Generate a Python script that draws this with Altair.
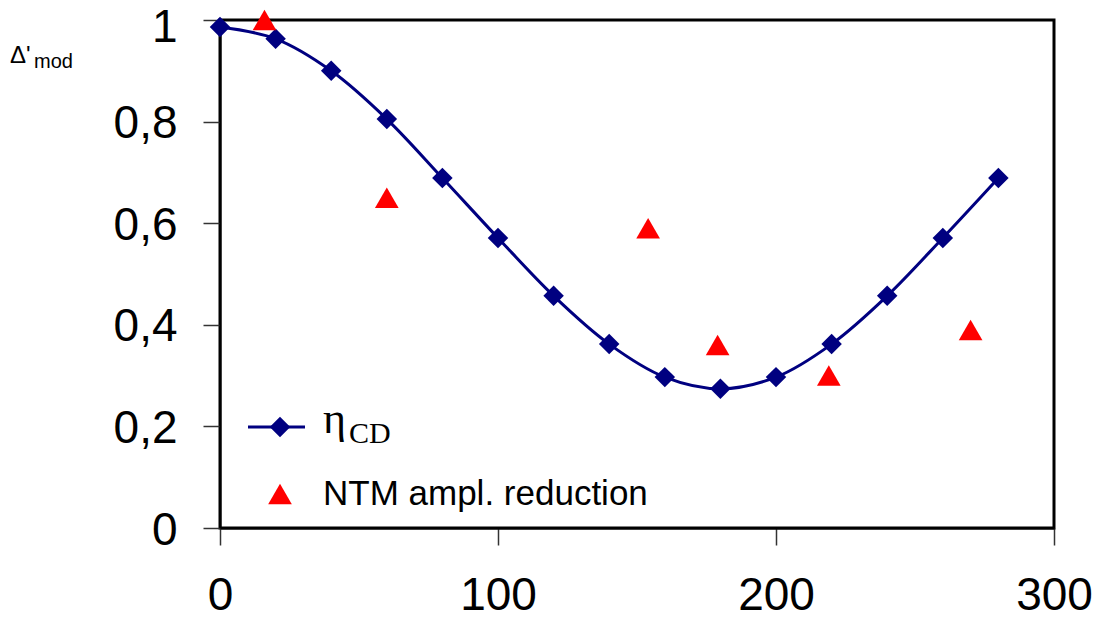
import altair as alt
import pandas as pd

# eta_CD curve (blue diamonds)
cd_x = [0, 20, 40, 60, 80, 100, 120, 140, 160, 180, 200, 220, 240, 260, 280]
cd_y = [0.986, 0.963, 0.900, 0.805, 0.689, 0.571, 0.457, 0.362, 0.297, 0.274,
        0.297, 0.362, 0.457, 0.571, 0.689]

# NTM amplitude reduction (red triangles)
ntm_x = [16, 60, 154, 179, 219, 270]
ntm_y = [1.0, 0.65, 0.59, 0.36, 0.30, 0.39]

x_ticks = [0, 100, 200, 300]
y_ticks = [0, 0.2, 0.4, 0.6, 0.8, 1.0]

legend_cd = "η"
legend_cd_sub = "CD"
legend_ntm = "NTM ampl. reduction"
y_title = "Δ'"
y_title_sub = "mod"

df_cd = pd.DataFrame({"x": cd_x, "y": cd_y})
df_ntm = pd.DataFrame({"x": ntm_x, "y": ntm_y})
one = pd.DataFrame({"a": [0]})

NAVY = "#000080"
SANS = "Liberation Sans"
SERIF = "Liberation Serif"

xscale = alt.Scale(domain=[0, 300], nice=False, zero=False)
yscale = alt.Scale(domain=[0, 1], nice=False)

xaxis = alt.Axis(values=x_ticks, title=None, grid=False, domainColor="black",
                 domainWidth=2, tickColor="#333333", tickSize=17, tickWidth=1.5,
                 labelFont=SANS, labelFontSize=46, labelColor="black",
                 labelPadding=28, labelFlush=False, labelOverlap=False)
yaxis = alt.Axis(values=y_ticks, title=None, grid=False, domainColor="black",
                 domainWidth=2, tickColor="#333333", tickSize=17, tickWidth=1.5,
                 labelFont=SANS, labelFontSize=46, labelColor="black",
                 labelPadding=26, labelFlush=False, labelOverlap=False,
                 labelBaseline="alphabetic",
                 labelOffset={"condition": {"test": "datum.value >= 0.99", "value": 21}, "value": 16},
                 labelExpr="datum.value == 0 || datum.value == 1 ? format(datum.value, 'd') : replace(format(datum.value, '.1f'), '.', ',')")

line = alt.Chart(df_cd).mark_line(color=NAVY, strokeWidth=3, interpolate="catmull-rom").encode(
    x=alt.X("x:Q", scale=xscale, axis=xaxis),
    y=alt.Y("y:Q", scale=yscale, axis=yaxis),
)
pts = alt.Chart(df_cd).mark_point(shape="diamond", filled=True, size=420, color=NAVY, opacity=1).encode(
    x=alt.X("x:Q", scale=xscale), y=alt.Y("y:Q", scale=yscale))
tri = alt.Chart(df_ntm).mark_point(shape="triangle-up", filled=True, size=560, color="#FF0000", opacity=1).encode(
    x=alt.X("x:Q", scale=xscale), y=alt.Y("y:Q", scale=yscale))

# manual legend
leg_rule = alt.Chart(one).mark_rule(color=NAVY, strokeWidth=3).encode(
    x=alt.value(28), x2=alt.value(85), y=alt.value(407))
leg_dia = alt.Chart(one).mark_point(shape="diamond", filled=True, size=420, color=NAVY, opacity=1).encode(
    x=alt.value(60), y=alt.value(407))
leg_eta = alt.Chart(one).mark_text(text=legend_cd, font=SERIF, fontSize=44, align="left",
                                   baseline="alphabetic", color="black").encode(
    x=alt.value(103), y=alt.value(413))
leg_eta_sub = alt.Chart(one).mark_text(text=legend_cd_sub, font=SERIF, fontSize=30, align="left",
                                       baseline="alphabetic", color="black").encode(
    x=alt.value(129), y=alt.value(423))
leg_tri = alt.Chart(one).mark_point(shape="triangle-up", filled=True, size=560, color="#FF0000", opacity=1).encode(
    x=alt.value(60), y=alt.value(474))
leg_ntm = alt.Chart(one).mark_text(text=legend_ntm, font=SANS, fontSize=35, align="left",
                                   baseline="alphabetic", color="black").encode(
    x=alt.value(103), y=alt.value(485))

# y-axis title
yt = alt.Chart(one).mark_text(text=y_title, font=SANS, fontSize=24, align="left",
                              baseline="alphabetic", color="black").encode(
    x=alt.value(-210), y=alt.value(43))
yt_sub = alt.Chart(one).mark_text(text=y_title_sub, font=SANS, fontSize=20, align="left",
                                  baseline="alphabetic", color="black").encode(
    x=alt.value(-186), y=alt.value(48))

chart = alt.layer(line, pts, tri, leg_rule, leg_dia, leg_eta, leg_eta_sub, leg_tri, leg_ntm, yt, yt_sub).properties(
    width=834, height=508,
    background="white",
    autosize=alt.AutoSizeParams(type="none"),
    padding={"left": 212, "top": 12, "right": 39, "bottom": 92},
).configure_view(stroke="black", strokeWidth=3)

chart.save("out.html", embed_options={"renderer": "svg", "actions": False})
